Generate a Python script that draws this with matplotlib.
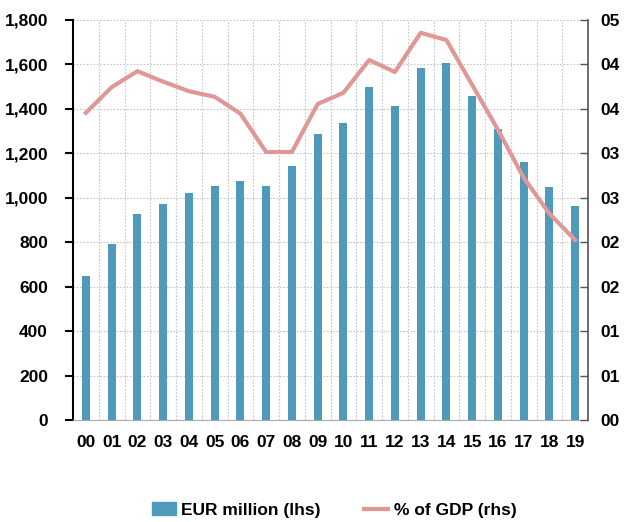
import matplotlib.pyplot as plt
import numpy as np
from matplotlib.ticker import FuncFormatter, FixedLocator
from matplotlib.patches import Patch
from matplotlib.lines import Line2D

years = ['00', '01', '02', '03', '04', '05', '06', '07', '08', '09',
         '10', '11', '12', '13', '14', '15', '16', '17', '18', '19']
eur_million = [650, 790, 925, 970, 1020, 1055, 1075, 1055, 1145, 1285,
               1335, 1500, 1415, 1585, 1605, 1460, 1310, 1160, 1050, 965]
pct_gdp = [3.84, 4.16, 4.36, 4.23, 4.11, 4.04, 3.83, 3.35, 3.35, 3.95,
           4.09, 4.50, 4.35, 4.84, 4.75, 4.19, 3.63, 3.03, 2.58, 2.25]

plt.rcParams['font.family'] = ['Liberation Sans', 'DejaVu Sans']
plt.rcParams['font.weight'] = 'bold'
plt.rcParams['font.size'] = 12.5

bar_col = '#4f9aba'
line_col = '#df9896'

fig = plt.figure(figsize=(6.29, 5.22), dpi=100)
ax = fig.add_axes([73 / 629, 102 / 522, 515 / 629, 400 / 522])
x = np.arange(len(years))
ax.bar(x, eur_million, width=0.32, color=bar_col, zorder=3)
ax.set_xlim(-0.5, len(years) - 0.5)
ax.set_ylim(0, 1800)
ax.set_yticks(np.arange(0, 1801, 200))
ax.yaxis.set_major_formatter(FuncFormatter(lambda v, p: f'{v:,.0f}'))
ax.set_xticks(x)
ax.set_xticklabels(years)
ax.xaxis.set_minor_locator(FixedLocator(x[:-1] + 0.5))
ax.tick_params(axis='x', which='both', length=0, pad=11)
ax.tick_params(axis='y', length=6, width=1.5, pad=12)
ax.grid(axis='y', which='major', color='#c4c4c4', linestyle=(0, (1.5, 1.5)), linewidth=0.8, zorder=0)
ax.grid(axis='x', which='minor', color='#c4c4c4', linestyle=(0, (1.5, 1.5)), linewidth=0.8, zorder=0)
for s in ['top', 'right']:
    ax.spines[s].set_visible(False)
ax.spines['left'].set_linewidth(1.5)
ax.spines['bottom'].set_color('#aaaaaa')

ax2 = ax.twinx()
ax2.plot(x, pct_gdp, color=line_col, linewidth=3, zorder=4)
ax2.set_ylim(0, 5)
ax2.set_yticks(np.linspace(0, 5, 10))
ax2.yaxis.set_major_formatter(FuncFormatter(lambda v, p: f'{v:02.0f}'))
ax2.tick_params(axis='y', direction='in', length=6, width=1, color='#555555', pad=9)
for s in ['top', 'left', 'bottom']:
    ax2.spines[s].set_visible(False)
ax2.spines['right'].set_color('#555555')
ax2.spines['right'].set_linewidth(1.2)

handles = [Patch(color=bar_col, label='EUR million (lhs)'),
           Line2D([0], [0], color=line_col, linewidth=3, label='% of GDP (rhs)')]
fig.legend(handles=handles, loc='center', bbox_to_anchor=(334 / 629, 12 / 522), ncol=2,
           frameon=False, handlelength=1.4, handletextpad=0.3, columnspacing=2.5)

fig.savefig('out.png', dpi=100)
